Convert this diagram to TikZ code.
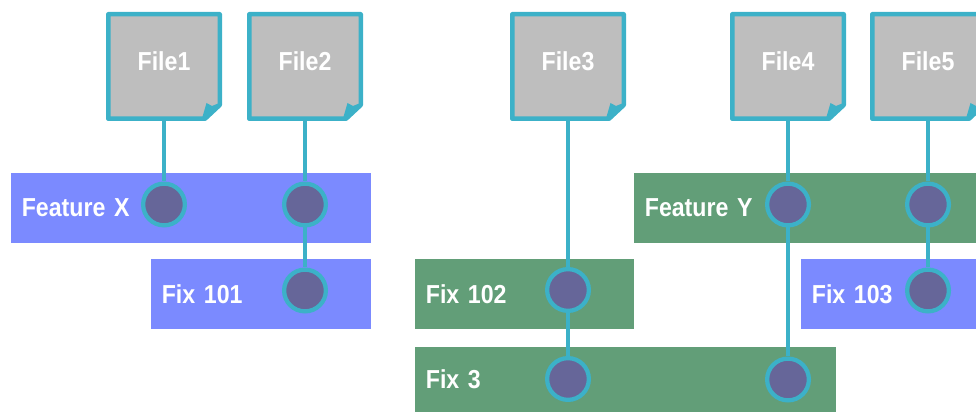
\documentclass[tikz,border=0pt]{standalone}
\usepackage{fontspec}
\setmainfont[FakeStretch=0.89]{Liberation Sans}
\usepackage{xcolor}
\usetikzlibrary{positioning,calc}
\definecolor{fileteal}{RGB}{60,177,200}
\definecolor{filegray}{RGB}{190,190,190}
\definecolor{branchblue}{RGB}{123,138,255}
\definecolor{branchgreen}{RGB}{98,158,120}
\definecolor{dotviolet}{RGB}{102,102,153}

\begin{document}
\begin{tikzpicture}[
    labeltext/.style={text=white, font=\fontsize{14.8}{17}\selectfont\bfseries},
    filebox/.style={rectangle, labeltext, align=center, text depth=.2cm, minimum width=2.32cm, minimum height=2.18cm, inner sep=0pt, outer sep=0pt,
        path picture={
            \coordinate (nw) at (path picture bounding box.north west);
            \coordinate (se) at (path picture bounding box.south east);
            \filldraw[draw=fileteal, fill=filegray, line width=.09cm, line join=round]
                ($(nw)+(.045,-.045)$) -- ($(nw -| se)+(-.045,-.045)$) -- ($(se)+(-.045,.32)$) -- ($(se)+(-.34,.045)$) -- ($(nw |- se)+(.045,.045)$) -- cycle;
            \fill[fileteal] ($(se)+(-.05,.36)$) -- ($(se)+(-.20,.30)$) -- ($(se)+(-.31,.36)$) -- ($(se)+(-.40,.05)$) -- ($(se)+(-.28,.05)$) -- cycle;
        }},
    band/.style={rectangle, labeltext, anchor=west, align=left, minimum height=1.4cm, inner xsep=.21cm, inner ysep=0pt, text width=#1},
    bluebranch/.style={band=#1, fill=branchblue},
    greenbranch/.style={band=#1, fill=branchgreen},
    commitdot/.style={circle, draw=fileteal, fill=dotviolet, line width=.085cm, minimum size=.835cm, inner sep=0pt},
    link/.style={draw=fileteal, line width=.085cm}
]
    \useasboundingbox (0,0) rectangle (19.52,8.24);
    \clip (0,0) rectangle (19.52,8.24);

    \node[bluebranch=6.78cm] (featurex) at (.22,4.08) {Feature X};
    \node[bluebranch=3.98cm] (fixa) at (3.02,2.36) {Fix 101};
    \node[greenbranch=3.96cm] (fixb) at (8.3,2.36) {Fix 102};
    \node[greenbranch=8cm, minimum height=1.3cm] (fixthree) at (8.3,.65) {Fix 3};
    \node[greenbranch=6.42cm] (featurey) at (12.68,4.08) {Feature Y};
    \node[bluebranch=3.08cm] (fixc) at (16.02,2.36) {Fix 103};

    \node[filebox] (file1) at (3.28,6.91) {File1};
    \node[filebox, right=.5cm of file1] (file2) {File2};
    \node[filebox, right=2.94cm of file2] (file3) {File3};
    \node[filebox, right=2.08cm of file3] (file4) {File4};
    \node[filebox, right=.48cm of file4] (file5) {File5};

    \node[commitdot, below=1.21cm of file1] (dotx1) {};
    \node[commitdot, below=1.21cm of file2] (dotx2) {};
    \node[commitdot, below=.8cm of dotx2] (dota) {};
    \node[commitdot, below=2.92cm of file3] (dotb) {};
    \node[commitdot, below=.86cm of dotb] (dott1) {};
    \node[commitdot, below=1.21cm of file4] (doty1) {};
    \node[commitdot, below=2.58cm of doty1] (dott2) {};
    \node[commitdot, below=1.21cm of file5] (doty2) {};
    \node[commitdot, below=.8cm of doty2] (dotc) {};

    \draw[link] (file1) -- (dotx1);
    \draw[link] (file2) -- (dotx2);
    \draw[link] (dotx2) -- (dota);
    \draw[link] (file3) -- (dotb);
    \draw[link] (dotb) -- (dott1);
    \draw[link] (file4) -- (doty1);
    \draw[link] (doty1) -- (dott2);
    \draw[link] (file5) -- (doty2);
    \draw[link] (doty2) -- (dotc);
\end{tikzpicture}
\end{document}
